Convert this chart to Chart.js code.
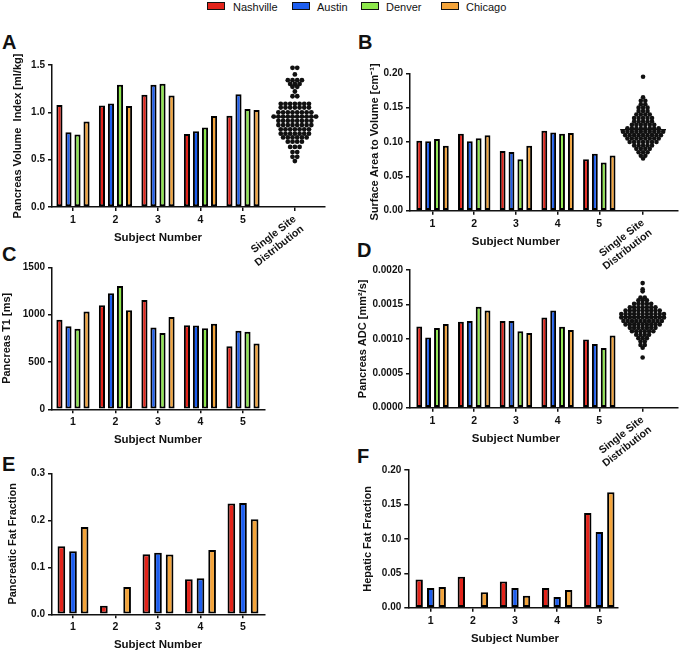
<!DOCTYPE html>
<html><head><meta charset="utf-8">
<script src="https://cdn.jsdelivr.net/npm/chart.js@4.4.1/dist/chart.umd.min.js"></script>
<style>
html,body{margin:0;padding:0;background:#fff;}
#wrap{position:relative;width:682px;height:653px;overflow:hidden;font-family:"Liberation Sans",Arial,sans-serif;color:#111;background:#fff;}
canvas{position:absolute;}
.letter{position:absolute;font-weight:bold;font-size:20px;line-height:20px;}
.lg-box{position:absolute;top:2px;width:18px;height:8px;box-sizing:border-box;border:1.5px solid #111;}
.lg-text{position:absolute;top:0;font-size:11px;line-height:14px;white-space:nowrap;}
</style></head>
<body><div id="wrap">
<div class="lg-box" style="left:207px;background:#e3241b"></div><div class="lg-text" style="left:233px">Nashville</div>
<div class="lg-box" style="left:292px;background:#1d5ef0"></div><div class="lg-text" style="left:317px">Austin</div>
<div class="lg-box" style="left:361px;background:#8ee84c"></div><div class="lg-text" style="left:386px">Denver</div>
<div class="lg-box" style="left:441px;background:#f3a43b"></div><div class="lg-text" style="left:466px">Chicago</div>
<div class="letter" style="left:2px;top:32px">A</div>
<div class="letter" style="left:358px;top:32px">B</div>
<div class="letter" style="left:2px;top:244px">C</div>
<div class="letter" style="left:357px;top:240px">D</div>
<div class="letter" style="left:2px;top:454px">E</div>
<div class="letter" style="left:357px;top:446px">F</div>
<canvas id="cA"></canvas><canvas id="cB"></canvas>
<canvas id="cC"></canvas><canvas id="cD"></canvas>
<canvas id="cE"></canvas><canvas id="cF"></canvas>
</div>
<script>
// ---------------- DATA ----------------
const seriesNames = ['Nashville', 'Austin', 'Denver', 'Chicago'];
const subjects = ['1', '2', '3', '4', '5'];
const singleSiteLabel = ['Single Site', 'Distribution'];
const xTitle = 'Subject Number';

// A: Pancreas Volume Index [ml/kg]
const volume_Nashville = [1.077, 1.073, 1.186, 0.770, 0.964];
const volume_Austin    = [0.790, 1.094, 1.292, 0.800, 1.190];
const volume_Denver    = [0.766, 1.292, 1.302, 0.840, 1.034];
const volume_Chicago   = [0.904, 1.066, 1.179, 0.960, 1.024];
const volume_SingleSite = [1.47,1.47, 1.40, 1.34,1.34,1.34,1.34, 1.30,1.30,1.30, 1.27,1.27, 1.22, 1.17,1.17,
  1.09,1.09,1.09,1.09,1.09,1.09,1.09, 1.05,1.05,1.05,1.05,1.05,1.05,1.05,
  1.00,1.00,1.00,1.00,1.00,1.00,1.00,1.00, 0.955,0.955,0.955,0.955,0.955,0.955,0.955,0.955,0.955,0.955,
  0.91,0.91,0.91,0.91,0.91,0.91,0.91,0.91, 0.865,0.865,0.865,0.865,0.865,0.865,0.865,0.865,
  0.82,0.82,0.82,0.82,0.82,0.82,0.82, 0.775,0.775,0.775,0.775,0.775,0.775,0.775,
  0.735,0.735,0.735,0.735,0.735,0.735, 0.69,0.69,0.69,0.69, 0.635,0.635,0.635, 0.58,0.58, 0.53,0.53, 0.485];
const volume_SingleSiteMean = 0.95;
const volume_yTicks = ['0.0', '0.5', '1.0', '1.5'];

// B: Surface Area to Volume [cm^-1]
const sav_Nashville = [0.102, 0.112, 0.087, 0.1165, 0.075];
const sav_Austin    = [0.101, 0.101, 0.0855, 0.114, 0.083];
const sav_Denver    = [0.1045, 0.1055, 0.075, 0.112, 0.070];
const sav_Chicago   = [0.0945, 0.110, 0.0945, 0.113, 0.0805];
const sav_SingleSite = [0.195, 0.165, 0.160,0.160, 0.155,0.155, 0.150,0.150,0.150, 0.145,0.145,0.145,
  0.140,0.140,0.140,0.140, 0.135,0.135,0.135,0.135,0.135, 0.130,0.130,0.130,0.130,0.130,
  0.125,0.125,0.125,0.125,0.125,0.125, 0.120,0.120,0.120,0.120,0.120,0.120,0.120,0.120,
  0.115,0.115,0.115,0.115,0.115,0.115,0.115,0.115,0.115,0.115, 0.110,0.110,0.110,0.110,0.110,0.110,0.110,0.110,0.110,
  0.105,0.105,0.105,0.105,0.105,0.105,0.105,0.105, 0.100,0.100,0.100,0.100,0.100,0.100,0.100,
  0.095,0.095,0.095,0.095,0.095, 0.090,0.090,0.090,0.090, 0.085,0.085,0.085, 0.080,0.080, 0.076];
const sav_SingleSiteMean = 0.118;
const sav_yTicks = ['0.00', '0.05', '0.10', '0.15', '0.20'];

// C: Pancreas T1 [ms]
const t1_Nashville = [947, 1099, 1155, 887, 665];
const t1_Austin    = [877, 1225, 863, 884, 831];
const t1_Denver    = [852, 1303, 806, 856, 820];
const t1_Chicago   = [1032, 1046, 975, 905, 694];
const t1_yTicks = ['0', '500', '1000', '1500'];

// D: Pancreas ADC [mm^2/s]
const adc_Nashville = [0.00118, 0.00125, 0.00126, 0.00131, 0.00099];
const adc_Austin    = [0.00102, 0.00126, 0.00126, 0.00141, 0.000925];
const adc_Denver    = [0.001157, 0.001467, 0.00111, 0.001177, 0.000867];
const adc_Chicago   = [0.001215, 0.00141, 0.001085, 0.001128, 0.00105];
const adc_SingleSite = [0.00181, 0.00172, 0.00169, 0.00160,0.00160, 0.00156,0.00156,0.00156,
  0.00151,0.00151,0.00151,0.00151,0.00151, 0.00146,0.00146,0.00146,0.00146,0.00146,0.00146,0.00146,
  0.00141,0.00141,0.00141,0.00141,0.00141,0.00141,0.00141,0.00141,0.00141,
  0.00136,0.00136,0.00136,0.00136,0.00136,0.00136,0.00136,0.00136,0.00136,0.00136,0.00136,
  0.00131,0.00131,0.00131,0.00131,0.00131,0.00131,0.00131,0.00131,0.00131,0.00131,0.00131,
  0.00126,0.00126,0.00126,0.00126,0.00126,0.00126,0.00126,0.00126,0.00126,0.00126,
  0.00121,0.00121,0.00121,0.00121,0.00121,0.00121,0.00121,0.00121,0.00121,
  0.00116,0.00116,0.00116,0.00116,0.00116,0.00116,0.00116, 0.00111,0.00111,0.00111,0.00111,0.00111,0.00111,
  0.00106,0.00106,0.00106,0.00106, 0.00101,0.00101,0.00101, 0.00096,0.00096, 0.00091,0.00091, 0.00087, 0.00073];
const adc_SingleSiteMean = 0.00132;
const adc_yTicks = ['0.0000', '0.0005', '0.0010', '0.0015', '0.0020'];

// E: Pancreatic Fat Fraction
const pff_Nashville = [0.145, 0.0184, 0.128, 0.0745, 0.236];
const pff_Austin    = [0.134, null, 0.131, 0.0766, 0.237];
const pff_Chicago   = [0.186, 0.058, 0.127, 0.137, 0.202];
const pff_yTicks = ['0.0', '0.1', '0.2', '0.3'];

// F: Hepatic Fat Fraction
const hff_Nashville = [0.041, 0.045, 0.038, 0.0286, 0.1375];
const hff_Austin    = [0.0286, null, 0.0286, 0.0155, 0.110];
const hff_Chicago   = [0.030, 0.0223, 0.0174, 0.0257, 0.1676];
const hff_yTicks = ['0.00', '0.05', '0.10', '0.15', '0.20'];

// ---------------- STYLE / RENDER ----------------
const COLORS = {Nashville:'#e3241b', Austin:'#1d5ef0', Denver:'#8ee84c', Chicago:'#f3a43b'};
const FONT = '"Liberation Sans", Arial, sans-serif';
const INK = '#111';
Chart.defaults.font.family = FONT;
Chart.defaults.color = INK;

const panelText = {
  id: 'panelText',
  afterDraw(chart, args, opts) {
    const ctx = chart.ctx, xs = chart.scales.x, ca = chart.chartArea;
    ctx.save();
    ctx.fillStyle = INK;
    ctx.font = 'bold 11.5px ' + FONT;
    ctx.textAlign = 'center'; ctx.textBaseline = 'middle';
    const cx = (xs.getPixelForValue(1) + xs.getPixelForValue(subjects.length)) / 2;
    ctx.fillText(xTitle, cx, ca.bottom + 31);
    if (opts.singleX != null) {
      const px = xs.getPixelForValue(opts.singleX);
      ctx.translate(px, ca.bottom + 11);
      ctx.rotate(-38 * Math.PI / 180);
      ctx.font = 'bold 10.5px ' + FONT;
      ctx.textAlign = 'right';
      singleSiteLabel.forEach((t, i) => ctx.fillText(t, 0, i * 12.5));
    }
    ctx.restore();
  }
};

function swarm(values, center, pxPerUnit, spacingPx) {
  const groups = new Map();
  values.forEach(v => { if (!groups.has(v)) groups.set(v, 0); groups.set(v, groups.get(v) + 1); });
  const pts = [];
  groups.forEach((n, v) => {
    for (let i = 0; i < n; i++) pts.push({x: center + (i - (n - 1) / 2) * spacingPx / pxPerUnit, y: v});
  });
  return pts;
}

function makePanel(id, cfg) {
  const cv = document.getElementById(id);
  const r = cfg.rect, p = cfg.plot;
  cv.width = r.w; cv.height = r.h;
  cv.style.left = r.left + 'px'; cv.style.top = r.top + 'px';
  cv.style.width = r.w + 'px'; cv.style.height = r.h + 'px';
  const pxPerUnit = (p.R - p.L) / (cfg.xmax - cfg.xmin);
  const datasets = cfg.series.map(s => ({
    type: 'bar', label: s.name, order: 2,
    data: s.data.map((v, i) => ({x: i + 1, y: v})),
    backgroundColor: COLORS[s.name], borderColor: '#000', borderWidth: 2, borderSkipped: false,
    categoryPercentage: cfg.catPct, barPercentage: cfg.barPct
  }));
  const xTicks = subjects.map((s, i) => i + 1);
  if (cfg.single) {
    xTicks.push(cfg.single.x);
    datasets.push({
      type: 'line', order: 0, data: [{x: cfg.single.x - 0.55, y: cfg.single.mean}, {x: cfg.single.x + 0.55, y: cfg.single.mean}],
      borderColor: INK, borderWidth: 1.5, pointRadius: 0, fill: false
    });
    datasets.push({
      type: 'scatter', order: 1, data: swarm(cfg.single.values, cfg.single.x, pxPerUnit, cfg.single.spacing),
      backgroundColor: INK, borderWidth: 0, pointRadius: cfg.single.radius
    });
  }
  const yVals = cfg.yTicks.map(Number);
  const axisCommon = {
    grid: {display: true, drawOnChartArea: false, drawTicks: true, tickLength: 4, color: INK, lineWidth: 1.5, offset: false},
    border: {display: true, color: INK, width: 1.5},
  };
  new Chart(cv, {
    type: 'bar',
    data: {datasets},
    plugins: [panelText],
    options: {
      responsive: false, animation: false, devicePixelRatio: 1,
      layout: {padding: {left: 0, top: p.T - r.top, right: r.left + r.w - p.R, bottom: 0}},
      plugins: {legend: {display: false}, tooltip: {enabled: false}, panelText: {singleX: cfg.single ? cfg.single.x : null}},
      scales: {
        x: Object.assign({}, axisCommon, {
          type: 'linear', min: cfg.xmin, max: cfg.xmax, offset: false,
          ticks: {autoSkip: false, maxRotation: 0, minRotation: 0, padding: 3, color: INK,
            font: {size: 10.5, weight: 'bold'},
            callback: (v, i) => i < subjects.length ? subjects[i] : ''},
          afterBuildTicks: s => { s.ticks = xTicks.map(v => ({value: v})); },
          afterFit: s => { s.height = r.top + r.h - p.B; }
        }),
        y: Object.assign({}, axisCommon, {
          type: 'linear', min: yVals[0], max: yVals[yVals.length - 1],
          ticks: {autoSkip: false, padding: 3, color: INK, font: {size: 10, weight: 'bold'},
            callback: (v, i) => cfg.yTicks[i]},
          afterBuildTicks: s => { s.ticks = yVals.map(v => ({value: v})); },
          title: {display: true, text: cfg.yTitle, color: INK, font: {size: 11, weight: 'bold'},
            padding: {top: cfg.titlePad, bottom: 0}},
          afterFit: s => { s.width = p.L - r.left; }
        })
      }
    }
  });
}

const S = (name, data) => ({name, data});

makePanel('cA', {
  rect: {left: 0, top: 40, w: 340, h: 230}, plot: {L: 52, R: 325, T: 65, B: 207},
  xmin: 0.506, xmax: 6.929, yTicks: volume_yTicks, yTitle: 'Pancreas Volume  Index [ml/kg]', titlePad: 11.7,
  catPct: 0.85, barPct: 0.68,
  series: [S('Nashville', volume_Nashville), S('Austin', volume_Austin), S('Denver', volume_Denver), S('Chicago', volume_Chicago)],
  single: {x: 6.22, values: volume_SingleSite, mean: volume_SingleSiteMean, spacing: 4.7, radius: 2.4}
});
makePanel('cB', {
  rect: {left: 340, top: 40, w: 342, h: 230}, plot: {L: 410, R: 680, T: 73.3, B: 210.7},
  xmin: 0.4595, xmax: 6.888, yTicks: sav_yTicks, yTitle: 'Surface Area to Volume [cm\u207B\u00B9]', titlePad: 28.4,
  catPct: 0.85, barPct: 0.66,
  series: [S('Nashville', sav_Nashville), S('Austin', sav_Austin), S('Denver', sav_Denver), S('Chicago', sav_Chicago)],
  single: {x: 6.05, values: sav_SingleSite, mean: sav_SingleSiteMean, spacing: 4.5, radius: 2.3}
});
makePanel('cC', {
  rect: {left: 0, top: 255, w: 340, h: 200}, plot: {L: 52, R: 265, T: 267.3, B: 409.3},
  xmin: 0.506, xmax: 5.518, yTicks: t1_yTicks, yTitle: 'Pancreas T1 [ms]', titlePad: 0.1,
  catPct: 0.85, barPct: 0.68,
  series: [S('Nashville', t1_Nashville), S('Austin', t1_Austin), S('Denver', t1_Denver), S('Chicago', t1_Chicago)]
});
makePanel('cD', {
  rect: {left: 340, top: 255, w: 342, h: 215}, plot: {L: 410, R: 680, T: 270, B: 407.7},
  xmin: 0.4595, xmax: 6.888, yTicks: adc_yTicks, yTitle: 'Pancreas ADC [mm\u00B2/s]', titlePad: 16.4,
  catPct: 0.85, barPct: 0.66,
  series: [S('Nashville', adc_Nashville), S('Austin', adc_Austin), S('Denver', adc_Denver), S('Chicago', adc_Chicago)],
  single: {x: 6.04, values: adc_SingleSite, mean: adc_SingleSiteMean, spacing: 4.3, radius: 2.3}
});
makePanel('cE', {
  rect: {left: 0, top: 460, w: 340, h: 193}, plot: {L: 52, R: 265, T: 473.3, B: 614.3},
  xmin: 0.506, xmax: 5.518, yTicks: pff_yTicks, yTitle: 'Pancreatic Fat Fraction', titlePad: 6.7,
  catPct: 0.82, barPct: 0.66,
  series: [S('Nashville', pff_Nashville), S('Austin', pff_Austin), S('Chicago', pff_Chicago)]
});
makePanel('cF', {
  rect: {left: 340, top: 455, w: 342, h: 198}, plot: {L: 408.3, R: 617.7, T: 470, B: 607.7},
  xmin: 0.4686, xmax: 5.4365, yTicks: hff_yTicks, yTitle: 'Hepatic Fat Fraction', titlePad: 21.4,
  catPct: 0.82, barPct: 0.64,
  series: [S('Nashville', hff_Nashville), S('Austin', hff_Austin), S('Chicago', hff_Chicago)]
});
</script>
</body></html>
